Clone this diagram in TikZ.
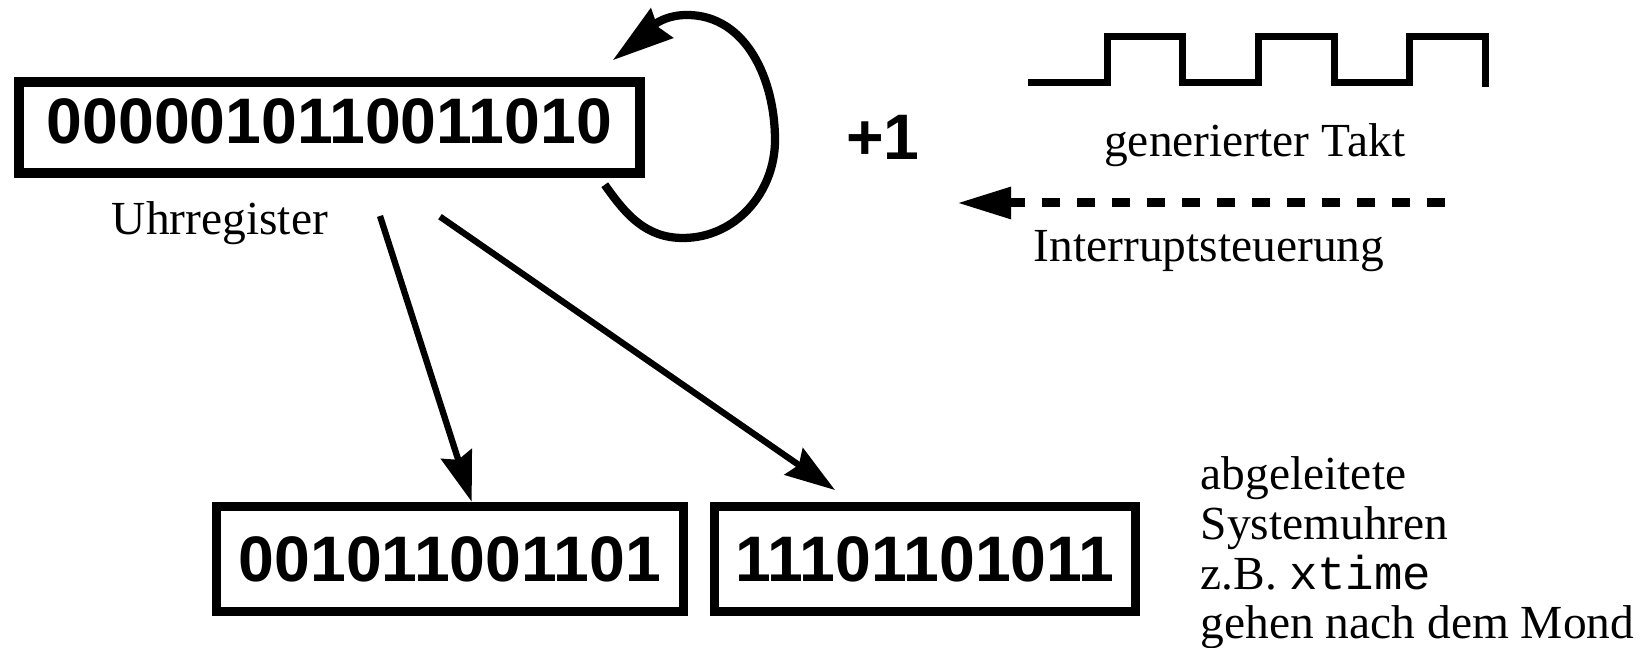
\documentclass[tikz,border=0pt]{standalone}
\usepackage{fontspec}
\setmainfont{Liberation Serif}
\setsansfont{Liberation Sans}
\setmonofont{Liberation Mono}
\usetikzlibrary{arrows.meta}

\begin{document}
\begin{tikzpicture}[
			reg box/.style={draw, line width=2.7pt, inner sep=0pt, font=\fontsize{18.3}{20}\selectfont\sffamily\bfseries},
			plain text/.style={inner sep=0pt, font=\fontsize{13.5}{14.2}\selectfont},
			read arrow/.style={line width=1.8pt, -{Stealth[length=5mm, width=3.2mm, inset=0.6mm]}},
			loop line/.style={line width=2.35pt, -{Stealth[length=6.1mm, width=3.6mm, inset=0.5mm]}},
			irq line/.style={line width=2.55pt, dash pattern=on 0.18cm off 0.17cm, -{Triangle[length=5.4mm, width=3mm]}},
			clock line/.style={line width=2.1pt, line join=miter}
			]
			
			\useasboundingbox (0,0) rectangle (16.43,6.48);
			
			% the clock register and its derived clocks
			\node[reg box, minimum width=6.21cm, minimum height=0.91cm, text depth=3.8pt] (uhr) at (3.295,5.205) {0000010110011010};
			\node[plain text, anchor=base] (uhr name) at (2.20,4.13) {Uhrregister};
			\node[reg box, minimum width=4.67cm, minimum height=1.05cm] (low) at (4.50,0.89) {001011001101};
			\node[reg box, minimum width=4.21cm, minimum height=1.05cm] (high) at (9.25,0.89) {11101101011};
			\node[plain text, anchor=base west, align=left] (derived) at (12.00,0.09) {abgeleitete\\Systemuhren\\z.B. \texttt{xtime}\\gehen nach dem Mond};
			
			% increment loop
			\coordinate (loop from) at ([shift={(-0.40,-0.07)}]uhr.south east);
			\coordinate (loop to) at ([shift={(-0.32,0.17)}]uhr.north east);
			\draw[loop line] (loop from) to[out=-55, in=180] (6.83,4.10) to[out=0, in=-90] (7.75,5.08)
				to[out=90, in=0] (6.87,6.33) to[out=180, in=37] (loop to);
			\node[inner sep=0pt, font=\fontsize{18.3}{20}\selectfont\sffamily\bfseries] (plus) at (8.83,5.105) {+1};
			
			% clock signal
			\coordinate (clock start) at (10.284,5.653);
			\draw[clock line] (clock start) -- ++(0.79,0) -- ++(0,0.46) -- ++(0.75,0) -- ++(0,-0.46)
				-- ++(0.76,0) -- ++(0,0.46) -- ++(0.76,0) -- ++(0,-0.46)
				-- ++(0.75,0) -- ++(0,0.46) -- ++(0.76,0) -- ++(0,-0.5);
			\node[plain text, anchor=base west] (takt) at (11.035,4.91) {generierter Takt};
			
			% interrupt
			\coordinate (irq from) at (14.45,4.45);
			\coordinate (irq to) at (9.57,4.45);
			\draw[irq line] (irq from) -- (irq to);
			\node[plain text, anchor=base west] (irq) at (10.33,3.86) {Interruptsteuerung};
			
			% reading the register
			\coordinate (read a) at (3.80,4.32);
			\coordinate (read b) at (4.40,4.313);
			\draw[read arrow] (read a) -- ([xshift=0.217cm]low.north);
			\draw[read arrow] (read b) -- ([xshift=-0.90cm, yshift=0.117cm]high.north);
		\end{tikzpicture}
\end{document}
